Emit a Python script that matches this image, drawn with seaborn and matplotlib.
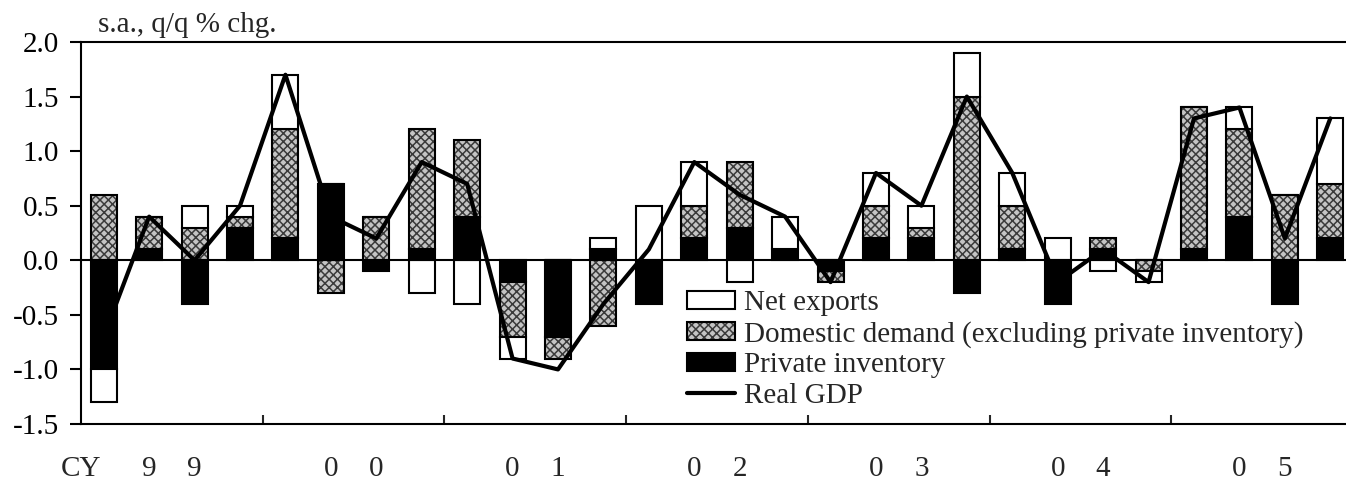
import numpy as np
import matplotlib
matplotlib.use("Agg")
import matplotlib.pyplot as plt
import seaborn as sns
from matplotlib.patches import Patch
from matplotlib.lines import Line2D

# quarterly contributions, CY1999 Q1 .. CY2005 Q4
quarters = [f"{y}Q{q}" for y in range(1999, 2006) for q in range(1, 5)]
private_inventory = [-1.0, 0.1, -0.4, 0.3, 0.2, 0.7, -0.1, 0.1,
                     0.4, -0.2, -0.7, 0.1, -0.4, 0.2, 0.3, 0.1,
                     -0.1, 0.2, 0.2, -0.3, 0.1, -0.4, 0.1, 0.0,
                     0.1, 0.4, -0.4, 0.2]
domestic_demand = [0.6, 0.3, 0.3, 0.1, 1.0, -0.3, 0.4, 1.1,
                   0.7, -0.5, -0.2, -0.6, 0.0, 0.3, 0.6, 0.0,
                   -0.1, 0.3, 0.1, 1.5, 0.4, 0.0, 0.1, -0.1,
                   1.3, 0.8, 0.6, 0.5]
net_exports = [-0.3, 0.0, 0.2, 0.1, 0.5, 0.0, 0.0, -0.3,
               -0.4, -0.2, 0.0, 0.1, 0.5, 0.4, -0.2, 0.3,
               0.0, 0.3, 0.2, 0.4, 0.3, 0.2, -0.1, -0.1,
               0.0, 0.2, 0.0, 0.6]
real_gdp = [-0.7, 0.4, 0.0, 0.5, 1.7, 0.4, 0.2, 0.9,
            0.7, -0.9, -1.0, -0.4, 0.1, 0.9, 0.6, 0.4,
            -0.2, 0.8, 0.5, 1.5, 0.8, -0.2, 0.1, -0.2,
            1.3, 1.4, 0.2, 1.3]
year_digits = ["9", "9", "0", "0", "0", "1", "0", "2", "0", "3", "0", "4", "0", "5"]

sns.set_theme(style="white")
plt.rcParams["font.family"] = ["Liberation Serif", "DejaVu Serif"]
plt.rcParams["axes.unicode_minus"] = False
plt.rcParams["hatch.linewidth"] = 1.1

FS = 21
HATCH_FACE = "#c4c4c4"
HATCH_LINE = "#3a3a3a"

fig = plt.figure(figsize=(13.46, 4.8), dpi=100)
ax = fig.add_axes([81 / 1346, 1 - 424 / 480, 1272 / 1346, 382 / 480])

# stack positives upward and negatives downward, in series order
n = len(quarters)
pos = np.zeros(n)
neg = np.zeros(n)
stacks = []
for vals in [private_inventory, domestic_demand, net_exports]:
    v = np.array(vals)
    bottom = np.where(v >= 0, pos, neg)
    stacks.append((v, bottom))
    pos = pos + np.clip(v, 0, None)
    neg = neg + np.clip(v, None, 0)

x = np.arange(n)
bw = 0.57
(inv_v, inv_b), (dom_v, dom_b), (nx_v, nx_b) = stacks

sns.barplot(x=x, y=inv_v, bottom=inv_b, width=bw, color="black",
            edgecolor="black", linewidth=1.5, ax=ax, zorder=2)
sns.barplot(x=x, y=dom_v, bottom=dom_b, width=bw, color=HATCH_FACE,
            edgecolor=HATCH_LINE, hatch="xxxx", linewidth=0, ax=ax, zorder=2)
sns.barplot(x=x, y=dom_v, bottom=dom_b, width=bw, color="black", fill=False,
            linewidth=1.5, ax=ax, zorder=2)
sns.barplot(x=x, y=nx_v, bottom=nx_b, width=bw, color="white",
            edgecolor="black", linewidth=1.5, ax=ax, zorder=2)

ax.axhline(0, color="black", lw=1.5, zorder=3)
sns.lineplot(x=x, y=real_gdp, color="black", lw=3, ax=ax, legend=False, zorder=4)

ax.set_xlim(-0.5, n - 0.5)
ax.set_ylim(-1.5, 2.0)
yt = np.arange(-1.5, 2.01, 0.5)
ax.set_yticks(yt, [f"{v:.1f}" for v in yt])
ax.set_xticks(np.arange(3.5, n - 1, 4), [])
lab_pos = [-0.5] + [4 * k + j for k in range(7) for j in (1, 2)]
ax.set_xticks(lab_pos, ["CY"] + year_digits, minor=True)
ax.tick_params(axis="y", direction="out", length=8, width=1.5, labelsize=FS,
               pad=8, colors="black", left=True)
ax.tick_params(axis="x", which="major", direction="in", length=6.5, width=1.5,
               bottom=True)
ax.tick_params(axis="x", which="minor", length=0, labelsize=FS, pad=23)
ax.set_xlabel("")
ax.set_ylabel("")
for s in ax.spines.values():
    s.set_linewidth(1.5)
    s.set_color("black")
ax.spines["right"].set_visible(False)

fig.text(98 / 1346, 1 - 25 / 480, "s.a., q/q % chg.", fontsize=FS, va="center",
         ha="left")

handles = [
    Patch(facecolor="white", edgecolor="black", lw=1.5),
    (Patch(facecolor=HATCH_FACE, edgecolor=HATCH_LINE, hatch="xxxx", lw=0),
     Patch(facecolor="none", edgecolor="black", lw=1.5)),
    Patch(facecolor="black", edgecolor="black", lw=1.5),
    Line2D([], [], color="black", lw=3),
]
labels = ["Net exports", "Domestic demand (excluding private inventory)",
          "Private inventory", "Real GDP"]
ax.legend(handles, labels, loc="upper left",
          bbox_to_anchor=(687 / 1346, 1 - 290 / 480),
          bbox_transform=fig.transFigure, frameon=False, fontsize=FS,
          handlelength=1.65, handleheight=0.58, handletextpad=0.3,
          labelspacing=0.16, borderpad=0, borderaxespad=0)

fig.savefig("out.png", dpi=100)
